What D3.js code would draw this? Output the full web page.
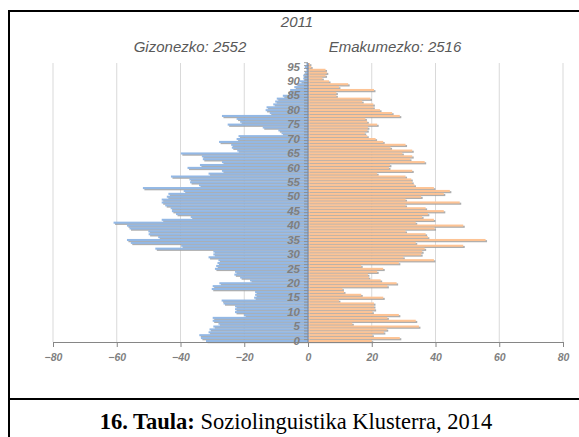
<!DOCTYPE html>
<html>
<head>
<meta charset="utf-8">
<script src="https://cdn.jsdelivr.net/npm/d3@7"></script>
<style>
  body { margin: 0; background: #fff; }
  svg { display: block; }
</style>
</head>
<body>
<div id="chart"></div>
<script>
// ages 0..96, one bar per year
var ages = d3.range(0, 97);

// Gizonezko (men) per age
var men = [32.0, 33.6, 34.1, 31.2, 30.9, 29.7, 28.1, 29.9, 29.9, 20.1,
  22.9, 22.9, 22.9, 26.5, 27.1, 16.9, 16.6, 16.6, 30.2, 29.9,
  27.8, 18.2, 21.3, 23.1, 22.9, 29.2, 28.8, 28.4, 28.1, 31.2,
  29.7, 29.7, 47.9, 39.8, 55.6, 56.8, 47.0, 50.0, 50.1, 56.0,
  56.8, 61.0, 45.9, 36.8, 41.4, 42.7, 43.1, 44.8, 45.9, 45.9,
  44.3, 43.8, 39.0, 51.8, 34.2, 37.0, 37.2, 43.0, 31.2, 27.0,
  37.8, 33.9, 27.0, 33.0, 33.3, 39.9, 22.2, 23.9, 24.1, 27.9,
  22.4, 21.8, 8.3, 9.3, 14.2, 25.2, 21.3, 22.4, 27.0, 12.0,
  13.3, 13.0, 10.9, 10.3, 9.8, 7.9, 6.2, 5.6, 4.3, 3.8,
  2.5, 1.5, 1.5, 1.0, 0.5, 1.0, 0.5];

// Emakumezko (women) per age
var women = [20.0, 28.8, 20.2, 23.8, 24.7, 34.8, 13.9, 33.8, 24.9, 28.5,
  20.2, 20.9, 20.7, 20.7, 9.7, 23.6, 16.7, 11.3, 10.8, 24.9,
  27.8, 22.8, 19.1, 18.8, 21.7, 23.6, 16.7, 28.5, 39.5, 29.9,
  35.5, 35.8, 36.6, 48.7, 33.8, 55.7, 37.6, 36.9, 30.6, 39.7,
  48.7, 33.8, 39.5, 35.8, 37.6, 42.6, 36.9, 30.6, 47.6, 30.6,
  35.5, 42.6, 44.5, 39.5, 33.4, 32.7, 32.4, 30.6, 21.7, 32.7,
  25.4, 25.7, 36.6, 32.0, 32.7, 29.6, 32.7, 25.9, 30.6, 23.6,
  21.2, 18.6, 17.8, 18.6, 18.8, 21.7, 18.6, 18.0, 28.8, 26.4,
  22.6, 20.5, 20.5, 17.0, 19.6, 8.9, 8.9, 20.7, 9.7, 12.6,
  6.6, 4.5, 5.5, 5.9, 5.5, 1.0, 0.6];

var xTicks = [-80, -60, -40, -20, 0, 20, 40, 60, 80];
var title = "2011";
var menLabel = "Gizonezko: 2552";
var womenLabel = "Emakumezko: 2516";

var W = 579, H = 437;
var svg = d3.select("#chart").append("svg").attr("width", W).attr("height", H);

var x = d3.scaleLinear().domain([-80, 80]).range([53, 563]);
var y = d3.scaleBand().domain(ages).range([342, 63]).paddingInner(0.28);

// gridlines
svg.append("g").selectAll("line").data(xTicks).join("line")
  .attr("x1", d => x(d)).attr("x2", d => x(d))
  .attr("y1", 63).attr("y2", 342)
  .attr("stroke", "#d9d9d9").attr("stroke-width", 1);

var rows = ages.map((a, i) => ({age: a, m: men[i], w: women[i]}));

// shadows first
var sh = svg.append("g").attr("fill", "#a0a0a0").attr("opacity", 0.85);
sh.selectAll(".sm").data(rows).join("rect")
  .attr("x", d => x(-d.m) + 1.5).attr("y", d => y(d.age) + 1.2)
  .attr("width", d => x(0) - x(-d.m)).attr("height", y.bandwidth());
sh.selectAll(".sw").data(rows).join("rect")
  .attr("x", d => x(0) + 1.5).attr("y", d => y(d.age) + 1.2)
  .attr("width", d => x(d.w) - x(0)).attr("height", y.bandwidth());

svg.append("g").selectAll("rect").data(rows).join("rect")
  .attr("x", d => x(-d.m)).attr("y", d => y(d.age))
  .attr("width", d => x(0) - x(-d.m)).attr("height", y.bandwidth())
  .attr("fill", "#93b8e5");
svg.append("g").selectAll("rect").data(rows).join("rect")
  .attr("x", x(0)).attr("y", d => y(d.age))
  .attr("width", d => x(d.w) - x(0)).attr("height", y.bandwidth())
  .attr("fill", "#fdc394");

// bottom axis
var xAxis = d3.axisBottom(x).tickValues(xTicks).tickSize(5).tickSizeOuter(0).tickPadding(7);
var gx = svg.append("g").attr("transform", "translate(0,342)").call(xAxis);
gx.select(".domain").attr("stroke", "#868686");
gx.selectAll(".tick line").attr("stroke", "#868686");
gx.selectAll("text")
  .attr("fill", "#7f7f7f")
  .style("font", "italic bold 10.5px 'Liberation Sans', Arial, sans-serif");

// vertical age axis at zero
var yAxis = d3.axisLeft(y).tickValues(ages.filter(a => a % 5 === 0)).tickSize(0).tickPadding(8);
var gy = svg.append("g").attr("transform", "translate(" + x(0) + ",0)").call(yAxis);
gy.select(".domain").remove();
gy.selectAll("text")
  .attr("fill", "#7f7f7f")
  .style("font", "italic bold 11.5px 'Liberation Sans', Arial, sans-serif");
// small category ticks
svg.append("g").selectAll("line").data(ages).join("line")
  .attr("x1", x(0) - 4).attr("x2", x(0))
  .attr("y1", d => y(d) - 0.3).attr("y2", d => y(d) - 0.3)
  .attr("stroke", "#868686").attr("stroke-width", 0.8);
svg.append("line")
  .attr("x1", x(0)).attr("x2", x(0)).attr("y1", 63).attr("y2", 342)
  .attr("stroke", "#7a8ca8").attr("stroke-width", 1.2);

// titles
var tf = "italic 15px 'Liberation Sans', Arial, sans-serif";
svg.append("text").attr("x", 297).attr("y", 27).attr("text-anchor", "middle")
  .attr("fill", "#595959").style("font", tf).text(title);
svg.append("text").attr("x", 190).attr("y", 52).attr("text-anchor", "middle")
  .attr("fill", "#595959").style("font", tf).text(menLabel);
svg.append("text").attr("x", 395).attr("y", 52).attr("text-anchor", "middle")
  .attr("fill", "#595959").style("font", tf).text(womenLabel);

// frame of the table cell
var frame = svg.append("g").attr("stroke", "#000").attr("stroke-width", 2);
frame.append("line").attr("x1", 9).attr("x2", W).attr("y1", 11).attr("y2", 11);
frame.append("line").attr("x1", 9).attr("x2", 9).attr("y1", 10).attr("y2", H);
frame.append("line").attr("x1", 9).attr("x2", W).attr("y1", 399).attr("y2", 399);

// caption
var cap = svg.append("text").attr("x", 296).attr("y", 429).attr("text-anchor", "middle")
  .style("font", "22.5px 'Liberation Serif', 'Times New Roman', serif").attr("fill", "#000");
cap.append("tspan").attr("font-weight", "bold").text("16. Taula:");
cap.append("tspan").text(" Soziolinguistika Klusterra, 2014");
</script>
</body>
</html>
